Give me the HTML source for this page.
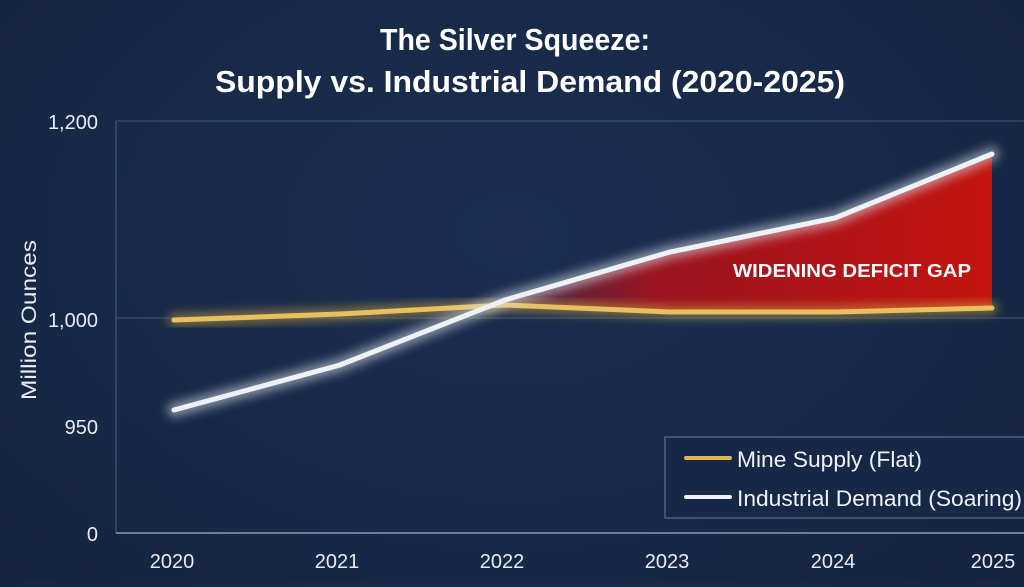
<!DOCTYPE html>
<html><head><meta charset="utf-8"><style>
html,body{margin:0;padding:0;}
body{width:1024px;height:582px;overflow:hidden;background:radial-gradient(ellipse at 50% 40%,#1b2e50 0%,#172947 60%,#14243f 100%);font-family:"Liberation Sans",sans-serif;}
</style></head><body>
<svg width="1024" height="582" viewBox="0 0 1024 582" xmlns="http://www.w3.org/2000/svg">
<defs>
<filter id="glow" x="-20%" y="-50%" width="140%" height="200%"><feGaussianBlur stdDeviation="5"/></filter>
<linearGradient id="red" x1="0" y1="0" x2="1" y2="0">
<stop offset="0" stop-color="#8a1a2a" stop-opacity="0.3"/>
<stop offset="0.3" stop-color="#9a1422"/>
<stop offset="1" stop-color="#c4140e"/>
</linearGradient>
</defs>
<text x="380" y="50" textLength="270" lengthAdjust="spacingAndGlyphs" fill="#fff" font-size="31" font-weight="bold">The Silver Squeeze:</text>
<text x="215" y="92" textLength="630" lengthAdjust="spacingAndGlyphs" fill="#fff" font-size="31" font-weight="bold">Supply vs. Industrial Demand (2020-2025)</text>
<line x1="116" y1="121" x2="1024" y2="121" stroke="#3d5478" stroke-width="1"/>
<line x1="116" y1="318" x2="1024" y2="318" stroke="#3d5478" stroke-width="1"/>
<line x1="116" y1="121" x2="116" y2="533" stroke="#4a6186" stroke-width="1"/>
<line x1="116" y1="533" x2="1024" y2="533" stroke="#8a9bb8" stroke-width="1.5"/>
<g fill="#e8ecf2" font-size="20" text-anchor="end">
<text x="98" y="129">1,200</text>
<text x="98" y="327">1,000</text>
<text x="98" y="434">950</text>
<text x="98" y="541">0</text>
</g>
<text transform="translate(36,320) rotate(-90)" text-anchor="middle" fill="#e8ecf2" font-size="21" textLength="160" lengthAdjust="spacingAndGlyphs">Million Ounces</text>
<g fill="#e8ecf2" font-size="20" text-anchor="middle">
<text x="172" y="568">2020</text><text x="337" y="568">2021</text><text x="502" y="568">2022</text>
<text x="667" y="568">2023</text><text x="833" y="568">2024</text><text x="993" y="568">2025</text>
</g>
<polygon points="505,302 670,252 835,218 992,154 992,308 835,312 670,312" fill="url(#red)"/>
<text x="733" y="277" textLength="238" lengthAdjust="spacingAndGlyphs" fill="#fff" font-size="18" font-weight="bold">WIDENING DEFICIT GAP</text>
<polyline points="174,320 340,314 505,305 670,312 835,312 992,308" fill="none" stroke="#c9a040" stroke-width="12" stroke-linecap="round" opacity="0.6" filter="url(#glow)"/>
<polyline points="174,320 340,314 505,305 670,312 835,312 992,308" fill="none" stroke="#e8c060" stroke-width="5" stroke-linecap="round"/>
<polyline points="174,410 340,365 505,300 670,252 835,218 992,154" fill="none" stroke="#dfe6f0" stroke-width="14" stroke-linecap="round" opacity="0.55" filter="url(#glow)"/>
<polyline points="174,410 340,365 505,300 670,252 835,218 992,154" fill="none" stroke="#eef1f6" stroke-width="5" stroke-linecap="round"/>
<rect x="665" y="437" width="370" height="81" fill="#172846" stroke="#4a6186" stroke-width="1.5"/>
<line x1="686" y1="458" x2="730" y2="458" stroke="#c9a040" stroke-width="10" stroke-linecap="round" opacity="0.6" filter="url(#glow)"/>
<line x1="686" y1="458" x2="730" y2="458" stroke="#e0b850" stroke-width="4" stroke-linecap="round"/>
<line x1="686" y1="497" x2="730" y2="497" stroke="#dfe6f0" stroke-width="10" stroke-linecap="round" opacity="0.6" filter="url(#glow)"/>
<line x1="686" y1="497" x2="730" y2="497" stroke="#eef1f6" stroke-width="4" stroke-linecap="round"/>
<text x="737" y="467" fill="#eef1f6" font-size="22" textLength="185" lengthAdjust="spacingAndGlyphs">Mine Supply (Flat)</text>
<text x="737" y="506" fill="#eef1f6" font-size="22" textLength="285" lengthAdjust="spacingAndGlyphs">Industrial Demand (Soaring)</text>
</svg>
</body></html>
